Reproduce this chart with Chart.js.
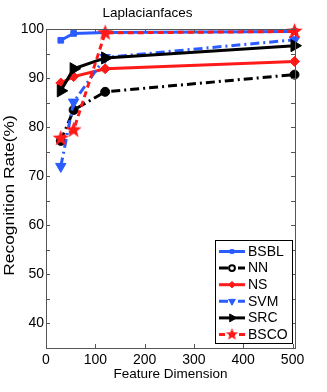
<!DOCTYPE html>
<html>
<head>
<meta charset="utf-8">
<script src="https://cdn.jsdelivr.net/npm/chart.js@4/dist/chart.umd.min.js"></script>
<style>
  html, body { margin: 0; padding: 0; background: #fff; }
  #wrap { width: 327px; height: 392px; }
</style>
</head>
<body>
<div id="wrap"><canvas id="grafico" width="327" height="392"></canvas></div>
<script>
const dims = [30, 56, 120, 504];
const seriesNames = ["BSBL", "NN", "NS", "SVM", "SRC", "BSCO"];
const bsbl = [97.7, 99.1, 99.3, 99.5];
const nn = [77.2, 83.5, 87.2, 90.7];
const ns = [89.0, 90.3, 91.9, 93.4];
const svm = [72.0, 85.1, 94.2, 97.8];
const src = [87.4, 91.9, 94.1, 96.6];
const bsco = [77.7, 79.4, 99.2, 99.5];
const xTicks = [0, 100, 200, 300, 400, 500];
const yTicks = [40, 50, 60, 70, 80, 90, 100];
const yMinorTicks = [45, 55, 65, 75, 85, 95];

const azul = '#2b5cff';
const rojo = '#ff1a1a';
const negro = '#000000';
const fuente = '"Liberation Sans", Arial, sans-serif';

// estrella de 5 puntas para BSCO
function hacerEstrella(r) {
  const c = document.createElement('canvas');
  const s = Math.ceil(r * 2 + 2);
  c.width = s; c.height = s;
  const g = c.getContext('2d');
  g.fillStyle = rojo;
  g.beginPath();
  for (let i = 0; i < 10; i++) {
    const rad = i % 2 === 0 ? r : r * 0.42;
    const a = -Math.PI / 2 + i * Math.PI / 5;
    const px = s / 2 + rad * Math.cos(a);
    const py = s / 2 + rad * Math.sin(a);
    if (i === 0) g.moveTo(px, py); else g.lineTo(px, py);
  }
  g.closePath();
  g.fill();
  return c;
}
const estrella = hacerEstrella(8.5);
const estrellaChica = hacerEstrella(6.5);

function puntos(valores) {
  return valores.map((v, i) => ({ x: dims[i], y: v }));
}

const estilos = [
  { color: azul, dash: [], punto: 'rect', radio: 4, rot: 0 },
  { color: negro, dash: [9, 4, 2, 4], punto: 'circle', radio: 4.5, rot: 0 },
  { color: rojo, dash: [], punto: 'rectRot', radio: 5, rot: 0 },
  { color: azul, dash: [9, 4, 2, 4], punto: 'triangle', radio: 6, rot: 180 },
  { color: negro, dash: [], punto: 'triangle', radio: 7, rot: 90 },
  { color: rojo, dash: [6, 4], punto: estrella, radio: 8, rot: 0 }
];
const valores = [bsbl, nn, ns, svm, src, bsco];

const datasets = valores.map((vals, i) => ({
  label: seriesNames[i],
  data: puntos(vals),
  borderColor: estilos[i].color,
  backgroundColor: estilos[i].color,
  borderWidth: 3,
  borderDash: estilos[i].dash,
  pointStyle: estilos[i].punto,
  pointRadius: estilos[i].radio,
  pointRotation: estilos[i].rot,
  pointBorderWidth: 1,
  pointHoverRadius: estilos[i].radio,
  tension: 0,
  clip: false,
  order: 5 - i
}));

// marco con ticks hacia dentro, estilo matlab
const marco = {
  id: 'marco',
  afterDatasetsDraw(chart) {
    const { ctx, chartArea: a, scales } = chart;
    ctx.save();
    ctx.strokeStyle = '#555';
    ctx.lineWidth = 1;
    ctx.strokeRect(a.left + 0.5, a.top + 0.5, a.right - a.left, a.bottom - a.top);
    ctx.beginPath();
    const L = 4;
    xTicks.forEach(v => {
      const px = Math.round(scales.x.getPixelForValue(v)) + 0.5;
      ctx.moveTo(px, a.bottom); ctx.lineTo(px, a.bottom - L);
      ctx.moveTo(px, a.top); ctx.lineTo(px, a.top + L);
    });
    yTicks.concat(yMinorTicks).forEach(v => {
      const py = Math.round(scales.y.getPixelForValue(v)) + 0.5;
      ctx.moveTo(a.left, py); ctx.lineTo(a.left + L, py);
      ctx.moveTo(a.right, py); ctx.lineTo(a.right - L, py);
    });
    ctx.stroke();
    ctx.restore();
  }
};

// titulo del eje y, algo estirado como en la figura original
const tituloY = {
  id: 'tituloY',
  afterDraw(chart) {
    const ctx = chart.ctx;
    const a = chart.chartArea;
    ctx.save();
    ctx.translate(14, (a.top + a.bottom) / 2 + 7);
    ctx.rotate(-Math.PI / 2);
    ctx.scale(1.16, 1);
    ctx.font = '15px ' + fuente;
    ctx.fillStyle = '#000';
    ctx.textAlign = 'center';
    ctx.textBaseline = 'alphabetic';
    ctx.fillText('Recognition Rate(%)', 0, 0);
    ctx.restore();
  }
};

// leyenda con linea y marcador (marcadores mas chicos)
const leyenda = {
  id: 'leyenda',
  afterDraw(chart) {
    const ctx = chart.ctx;
    const x0 = 215, y0 = 240, w = 77, h = 103;
    ctx.save();
    ctx.fillStyle = '#fff';
    ctx.fillRect(x0, y0, w, h);
    ctx.strokeStyle = '#000';
    ctx.lineWidth = 1;
    ctx.strokeRect(x0 + 0.5, y0 + 0.5, w, h);
    chart.data.datasets.forEach((ds, i) => {
      const y = 251.5 + i * 16.6;
      ctx.strokeStyle = ds.borderColor;
      ctx.lineWidth = 3;
      ctx.setLineDash(ds.borderDash);
      ctx.beginPath();
      ctx.moveTo(219, y); ctx.lineTo(245, y);
      ctx.stroke();
      ctx.setLineDash([]);
      const esEstrella = ds.pointStyle === estrella;
      ctx.fillStyle = ds.label === 'NN' ? '#fff' : ds.backgroundColor;
      ctx.strokeStyle = ds.borderColor;
      ctx.lineWidth = ds.label === 'NN' ? 2 : 1;
      Chart.helpers.drawPoint(ctx, {
        pointStyle: esEstrella ? estrellaChica : ds.pointStyle,
        rotation: ds.pointRotation,
        radius: ds.pointRadius * 0.65,
        borderWidth: ctx.lineWidth
      }, 232, y);
      ctx.fillStyle = '#000';
      ctx.font = '14px ' + fuente;
      ctx.textBaseline = 'middle';
      ctx.textAlign = 'left';
      ctx.fillText(ds.label, 248, y + 0.5);
    });
    ctx.restore();
  }
};

new Chart(document.getElementById('grafico'), {
  type: 'line',
  data: { datasets },
  plugins: [marco, tituloY, leyenda],
  options: {
    responsive: false,
    animation: false,
    events: [],
    layout: { padding: { left: 0, right: 32, top: 0, bottom: 0 } },
    plugins: {
      legend: { display: false },
      tooltip: { enabled: false },
      title: {
        display: true,
        text: 'Laplacianfaces',
        color: '#000',
        font: { family: fuente, size: 13.5, weight: 'normal' },
        padding: { top: 5, bottom: 7.8 }
      }
    },
    scales: {
      x: {
        type: 'linear',
        min: 0,
        max: 505,
        grid: { display: false, drawTicks: false },
        border: { display: false },
        afterBuildTicks(s) { s.ticks = xTicks.map(v => ({ value: v })); },
        afterFit(s) { s.height = 44; },
        ticks: {
          color: '#000',
          padding: 4,
          maxRotation: 0,
          font: { family: fuente, size: 14 }
        },
        title: {
          display: true,
          text: 'Feature Dimension',
          color: '#000',
          font: { family: fuente, size: 13.5 },
          padding: { top: 0, bottom: 10 }
        }
      },
      y: {
        min: 35,
        max: 100,
        grid: { display: false, drawTicks: false },
        border: { display: false },
        afterBuildTicks(s) { s.ticks = yTicks.map(v => ({ value: v })); },
        afterFit(s) { s.width = 46; },
        ticks: {
          color: '#000',
          padding: 2,
          font: { family: fuente, size: 14 }
        },
        title: { display: false }
      }
    }
  }
});
</script>
</body>
</html>
